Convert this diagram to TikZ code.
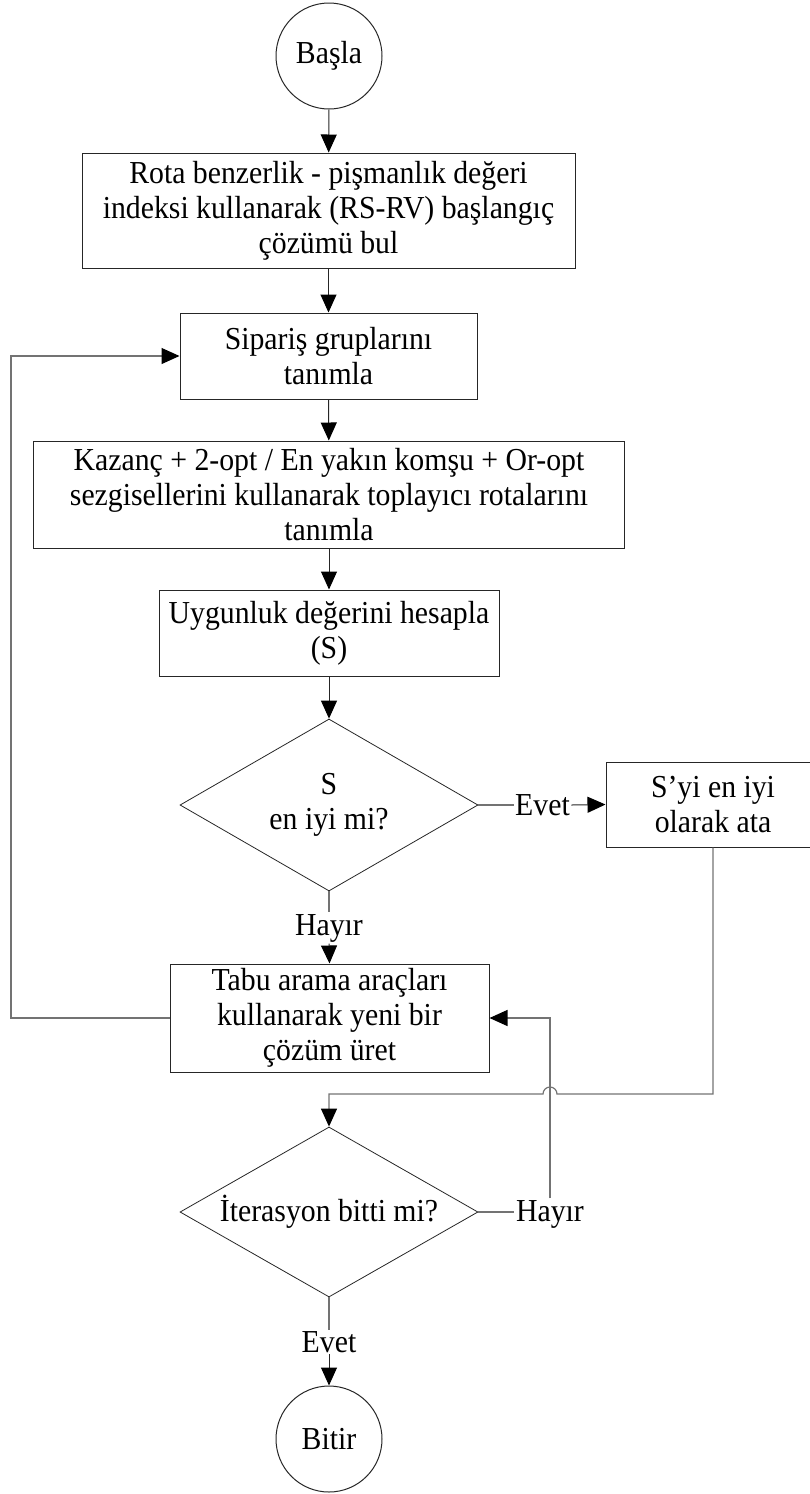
\documentclass[tikz,border=0pt]{standalone}
\usepackage{fontspec}
\setmainfont{Liberation Serif}[FakeStretch=0.93]
\usetikzlibrary{arrows.meta,shapes.geometric}

\begin{document}
\begin{tikzpicture}[x=1pt,y=-1pt,
  every node/.style={font=\fontsize{32}{35}\selectfont},
  >={Triangle[length=18pt,width=16pt,color=black]},
  proc/.style={draw=black!85, line width=1pt, rectangle, align=center, inner sep=0pt},
  term/.style={draw=black!85, line width=1pt, circle, minimum size=106pt, inner sep=0pt},
  decision/.style={draw=black!85, line width=0.8pt, diamond, inner sep=0pt},
  lbl/.style={inner sep=1.5pt, align=center},
  arr/.style={draw=black!85, line width=1pt, ->},
  link/.style={draw=black!55, line width=1.2pt}]

  % page frame
  \path[use as bounding box] (0,0) rectangle (809,1494);

  % nodes
  \node[term] (start) at (329,56) {Başla};
  \node[proc, minimum width=493pt, minimum height=115pt] (b1) at (328.5,210.5)
    {Rota benzerlik - pişmanlık değeri\\indeksi kullanarak (RS-RV) başlangıç\\çözümü bul};
  \node[proc, minimum width=297pt, minimum height=86pt] (b2) at (328.5,356)
    {Sipariş gruplarını\\tanımla};
  \node[proc, minimum width=591pt, minimum height=107pt] (b3) at (329,494.5)
    {Kazanç + 2-opt / En yakın komşu + Or-opt\\sezgisellerini kullanarak toplayıcı rotalarını\\tanımla};
  \node[proc, minimum width=340pt, minimum height=86pt] (b4) at (329,633)
    {Uygunluk değerini hesapla\\(S)};
  \node[decision, minimum width=298pt, minimum height=172pt] (d1) at (329,805) {};
  \node[lbl] (d1t) at (329,805) {S\\en iyi mi?};
  \node[proc, minimum width=214pt, minimum height=85pt] (b5) at (713,804.5)
    {S’yi en iyi\\olarak ata};
  \node[proc, minimum width=319pt, minimum height=108pt] (b6) at (329.5,1018)
    {Tabu arama araçları\\kullanarak yeni bir\\çözüm üret};
  \node[decision, minimum width=298pt, minimum height=170pt] (d2) at (329,1212) {};
  \node[lbl] (d2t) at (329,1212) {İterasyon bitti mi?};
  \node[term] (end) at (329,1439) {Bitir};

  % branch labels
  \node[lbl] (e1) at (542.5,805) {Evet};
  \node[lbl] (h1) at (329,928) {Hayır};
  \node[lbl] (h2) at (550,1214) {Hayır};
  \node[lbl] (e2) at (329,1342) {Evet};

  % routing points
  \coordinate (loopL1) at (11,1018);
  \coordinate (loopL2) at (11,356);
  \coordinate (r1) at (713,1094);
  \coordinate (hopR) at (557,1094);
  \coordinate (r2) at (329,1094);
  \coordinate (back) at (550,1018);

  % main flow
  \draw[arr] (start) -- (b1);
  \draw[arr] (b1) -- (b2);
  \draw[arr] (b2) -- (b3);
  \draw[arr] (b3) -- (b4);
  \draw[arr] (b4) -- (d1);

  % first decision
  \draw[link] (d1.east) -- (d1.east -| e1.west);
  \draw[arr] (d1.east -| e1.east) -- (b5.west);
  \draw[link] (d1.south) -- (h1.north);
  \draw[arr] (h1.south) -- (b6.north);

  % loop back to order grouping
  \draw[link, ->] (b6.west) -- (loopL1) -- (loopL2) -- (b2.west);

  % best solution to iteration check, hopping over the return line
  \draw[link, ->] (b5.south) -- (r1) -- (hopR)
    arc[start angle=0, end angle=-180, radius=7] -- (r2) -- (d2.north);

  % second decision
  \draw[link] (d2.east) -- (d2.east -| h2.west);
  \draw[link, ->] (h2.north) -- (back) -- (b6.east);
  \draw[link] (d2.south) -- (e2.north);
  \draw[arr] (e2.south) -- (end.north);
\end{tikzpicture}
\end{document}
